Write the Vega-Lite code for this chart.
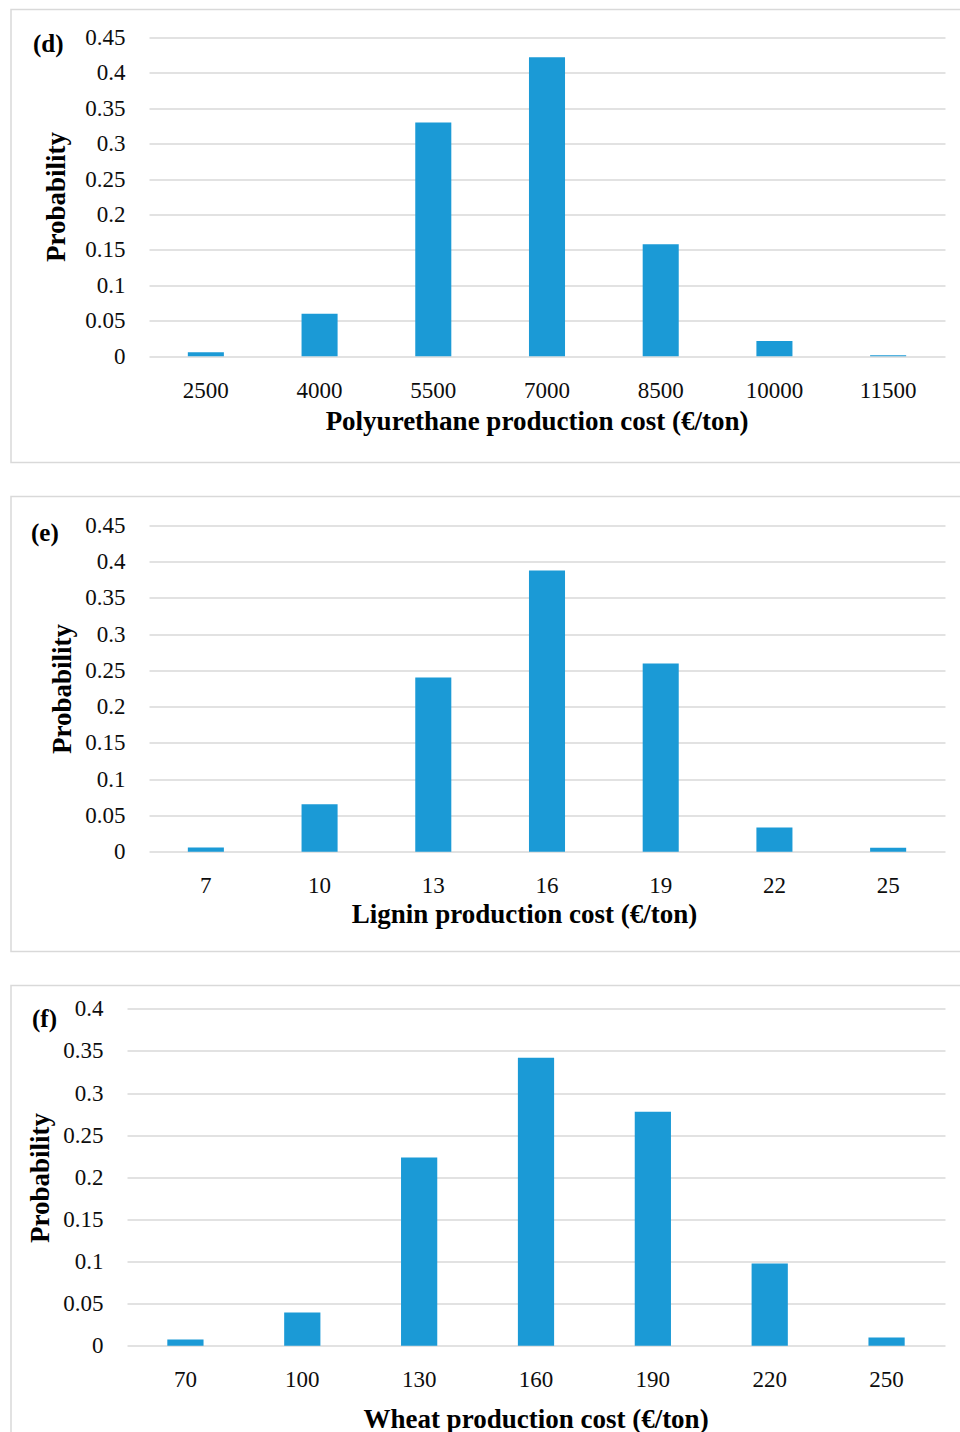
{
  "$schema": "https://vega.github.io/schema/vega-lite/v6.json",
  "background": "white",
  "padding": {"left": 10, "top": 8.5, "right": 0, "bottom": 0},
  "spacing": 32,
  "config": {
    "font": "Liberation Serif",
    "view": {"stroke": "#d9d9d9", "strokeWidth": 1.5},
    "axis": {
      "domain": false,
      "ticks": false,
      "labelFont": "Liberation Serif",
      "labelFontSize": 23,
      "labelColor": "#0d0d0d",
      "titleFont": "Liberation Serif",
      "titleFontSize": 27,
      "titleFontWeight": "bold",
      "titleColor": "#000000",
      "gridColor": "#d9d9d9",
      "gridWidth": 1.3
    },
    "axisX": {"grid": false, "labelAngle": 0, "labelBaseline": "middle", "titleAlign": "center", "titleBaseline": "middle"},
    "axisY": {"labelPadding": 24, "labelBaseline": "middle", "titleAngle": -90, "titleAlign": "center", "titleBaseline": "middle", "format": ".2~f"},
    "title": {"font": "Liberation Serif", "fontSize": 25, "fontWeight": "bold", "color": "#000000", "anchor": "start", "frame": "group", "offset": 0, "baseline": "middle"},
    "bar": {"color": "#1B9AD6"}
  },
  "vconcat": [
    {
      "width": 951,
      "height": 453,
      "title": {"text": "(d)", "dx": 22, "dy": 51},
      "data": {"values": [
        {"cost": 2500, "probability": 0.0055},
        {"cost": 4000, "probability": 0.06},
        {"cost": 5500, "probability": 0.33},
        {"cost": 7000, "probability": 0.422},
        {"cost": 8500, "probability": 0.158},
        {"cost": 10000, "probability": 0.0215},
        {"cost": 11500, "probability": 0.0012}
      ]},
      "mark": "bar",
      "encoding": {
        "x": {
          "field": "cost", "type": "ordinal",
          "scale": {"range": [138, 934], "paddingInner": 0.683, "paddingOuter": 0.3415},
          "axis": {"title": "Polyurethane production cost (€/ton)", "offset": -106.3, "labelPadding": 34, "titleX": 525.5, "titleY": 65.3}
        },
        "y": {
          "field": "probability", "type": "quantitative",
          "scale": {"domain": [0, 0.45], "range": [346.7, 28], "nice": false},
          "axis": {"title": "Probability", "offset": -138, "values": [0, 0.05, 0.1, 0.15, 0.2, 0.25, 0.3, 0.35, 0.4, 0.45], "titleX": -93, "titleY": 187}
        }
      }
    },
    {
      "width": 951,
      "height": 455,
      "title": {"text": "(e)", "dx": 20, "dy": 53},
      "data": {"values": [
        {"cost": 7, "probability": 0.006},
        {"cost": 10, "probability": 0.0656},
        {"cost": 13, "probability": 0.24},
        {"cost": 16, "probability": 0.3876},
        {"cost": 19, "probability": 0.2594},
        {"cost": 22, "probability": 0.0335},
        {"cost": 25, "probability": 0.0055}
      ]},
      "mark": "bar",
      "encoding": {
        "x": {
          "field": "cost", "type": "ordinal",
          "scale": {"range": [138, 934], "paddingInner": 0.683, "paddingOuter": 0.3415},
          "axis": {"title": "Lignin production cost (€/ton)", "offset": -99.7, "labelPadding": 33.4, "titleX": 513, "titleY": 62.7}
        },
        "y": {
          "field": "probability", "type": "quantitative",
          "scale": {"domain": [0, 0.45], "range": [355.3, 28.7], "nice": false},
          "axis": {"title": "Probability", "offset": -138, "values": [0, 0.05, 0.1, 0.15, 0.2, 0.25, 0.3, 0.35, 0.4, 0.45], "titleX": -87, "titleY": 192}
        }
      }
    },
    {
      "width": 951,
      "height": 450,
      "title": {"text": "(f)", "dx": 21, "dy": 50},
      "data": {"values": [
        {"cost": 70, "probability": 0.0075},
        {"cost": 100, "probability": 0.0395},
        {"cost": 130, "probability": 0.2235},
        {"cost": 160, "probability": 0.342},
        {"cost": 190, "probability": 0.2777},
        {"cost": 220, "probability": 0.0977},
        {"cost": 250, "probability": 0.0099}
      ]},
      "mark": "bar",
      "encoding": {
        "x": {
          "field": "cost", "type": "ordinal",
          "scale": {"range": [116, 934], "paddingInner": 0.69, "paddingOuter": 0.345},
          "axis": {"title": "Wheat production cost (€/ton)", "offset": -89.7, "labelPadding": 33.7, "titleX": 524.5, "titleY": 73.5}
        },
        "y": {
          "field": "probability", "type": "quantitative",
          "scale": {"domain": [0, 0.4], "range": [360.3, 23.3], "nice": false},
          "axis": {"title": "Probability", "offset": -116, "values": [0, 0.05, 0.1, 0.15, 0.2, 0.25, 0.3, 0.35, 0.4], "titleX": -87, "titleY": 192}
        }
      }
    }
  ]
}
